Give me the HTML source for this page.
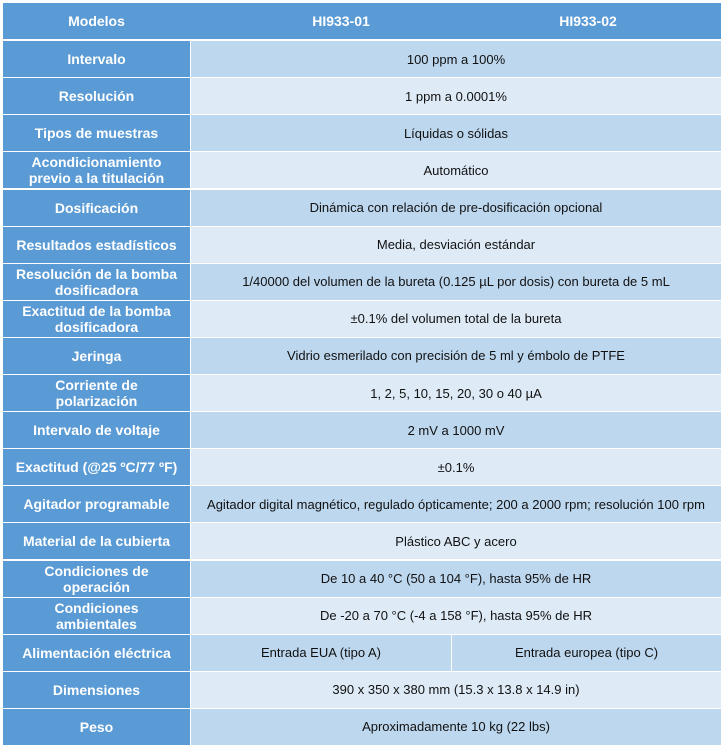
<!DOCTYPE html><html><head><meta charset="utf-8"><style>
body{margin:0;width:725px;height:749px;background:#fff;font-family:"Liberation Sans",Arial,sans-serif;position:relative;overflow:hidden}
.c{position:absolute;display:flex;align-items:center;justify-content:center;text-align:center;box-sizing:border-box}
.l{background:#5b9bd5;color:#fff;font-weight:bold;font-size:14px;line-height:16px}
.r{color:#111;font-size:13px}
.h{background:#5b9bd5;color:#fff;font-weight:bold;font-size:14px}
</style></head><body>
<div id="t"></div>
<script>
var rows=[["Intervalo","100 ppm a 100%"],["Resolución","1 ppm a 0.0001%"],["Tipos de muestras","Líquidas o sólidas"],["Acondicionamiento<br>previo a la titulación","Automático"],["Dosificación","Dinámica con relación de pre-dosificación opcional"],["Resultados estadísticos","Media, desviación estándar"],["Resolución de la bomba<br>dosificadora","1/40000 del volumen de la bureta (0.125 µL por dosis) con bureta de 5 mL"],["Exactitud de la bomba<br>dosificadora","±0.1% del volumen total de la bureta"],["Jeringa","Vidrio esmerilado con precisión de 5 ml y émbolo de PTFE"],["Corriente de<br>polarización","1, 2, 5, 10, 15, 20, 30 o 40 µA"],["Intervalo de voltaje","2 mV a 1000 mV"],["Exactitud (@25 ºC/77 ºF)","±0.1%"],["Agitador programable","Agitador digital magnético, regulado ópticamente; 200 a 2000 rpm; resolución 100 rpm"],["Material de la cubierta","Plástico ABC y acero"],["Condiciones de<br>operación","De 10 a 40 °C (50 a 104 °F), hasta 95% de HR"],["Condiciones<br>ambientales","De -20 a 70 °C (-4 a 158 °F), hasta 95% de HR"],["Alimentación eléctrica",null],["Dimensiones","390 x 350 x 380 mm (15.3 x 13.8 x 14.9 in)"],["Peso","Aproximadamente 10 kg (22 lbs)"]];
var p=37.1,h='';
h+='<div class="c h" style="left:3px;top:3px;width:718px;height:36px"></div>';
h+='<div class="c h" style="left:3px;top:3px;width:187px;height:36px">Modelos</div>';
h+='<div class="c h" style="left:241px;top:3px;width:200px;height:36px">HI933-01</div>';
h+='<div class="c h" style="left:488px;top:3px;width:200px;height:36px">HI933-02</div>';
rows.forEach(function(r,i){var y=3+p*(i+1)+1,hh=p-1,bg=i%2==0?'#bdd7ee':'#deebf7';
h+='<div class="c l" style="left:3px;top:'+y+'px;width:187px;height:'+hh+'px">'+r[0]+'</div>';
if(r[1]===null){h+='<div class="c r" style="left:191px;top:'+y+'px;width:260px;height:'+hh+'px;background:'+bg+'">Entrada EUA (tipo A)</div>';
h+='<div class="c r" style="left:452px;top:'+y+'px;width:269px;height:'+hh+'px;background:'+bg+'">Entrada europea (tipo C)</div>';}
else h+='<div class="c r" style="left:191px;top:'+y+'px;width:530px;height:'+hh+'px;background:'+bg+'">'+r[1]+'</div>';});
document.getElementById('t').innerHTML=h;
</script></body></html>
